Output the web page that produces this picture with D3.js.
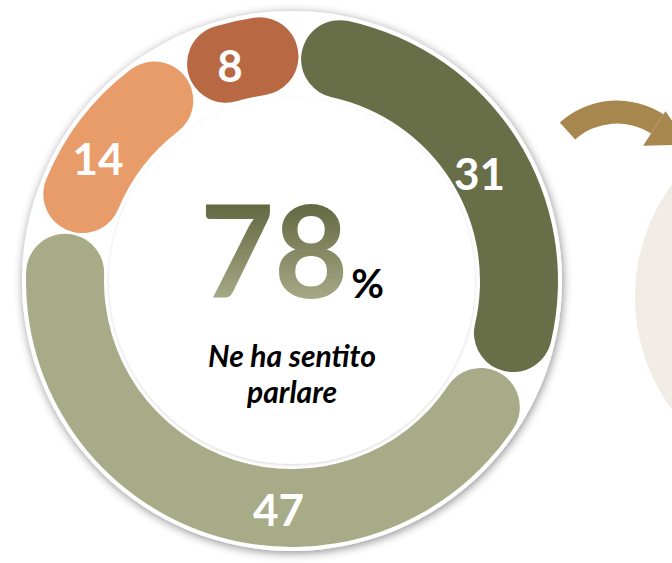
<!DOCTYPE html>
<html>
<head>
<meta charset="utf-8">
<script src="https://cdn.jsdelivr.net/npm/d3@7"></script>
<style>
    body { margin: 0; background: #fff; }
    svg { display: block; }
</style>
</head>
<body>
<div id="chart"></div>
<script>
// slices, clockwise from the top
var values = [31, 47, 14, 8];
var colors = ["#686E48", "#A7AB87", "#E89C6A", "#B86843"];
var labelShift = [2.5, -14.5, -5.5, -3.5]; // degrees, the labels are not all at mid slice
var labelRadius = [216, 230, 229, 224];
var centerValue = 78;
var centerCaption = ["Ne ha sentito", "parlare"];

var width = 672, height = 563;
var cx = 292, cy = 281;
var diskR = 270, bandOuter = 266, bandInner = 188, holeR = 183;
var rad = Math.PI / 180;

var svg = d3.select("#chart").append("svg")
    .attr("width", width)
    .attr("height", height);

var defs = svg.append("defs");

defs.append("filter")
    .attr("id", "diskShadow")
    .attr("x", "-20%").attr("y", "-20%")
    .attr("width", "140%").attr("height", "140%")
    .append("feDropShadow")
    .attr("dx", 1).attr("dy", 2)
    .attr("stdDeviation", 5)
    .attr("flood-color", "#000")
    .attr("flood-opacity", 0.45);

defs.append("filter")
    .attr("id", "holeShadow")
    .attr("x", "-20%").attr("y", "-20%")
    .attr("width", "140%").attr("height", "140%")
    .append("feDropShadow")
    .attr("dx", 0).attr("dy", 1)
    .attr("stdDeviation", 1.5)
    .attr("flood-color", "#000")
    .attr("flood-opacity", 0.18);

// gradient is in the centre group's coordinates
var grad = defs.append("linearGradient")
    .attr("id", "bigNum")
    .attr("gradientUnits", "userSpaceOnUse")
    .attr("x1", 0).attr("x2", 0)
    .attr("y1", 207 - cy).attr("y2", 299 - cy);
grad.append("stop").attr("offset", 0).attr("stop-color", "#646A43");
grad.append("stop").attr("offset", 1).attr("stop-color", "#A6A986");

// next panel peeking in on the right, with the connecting arrow
svg.append("circle")
    .attr("cx", 825).attr("cy", 297)
    .attr("r", 190)
    .attr("fill", "#F1ECE5");

var arrowC = [617, 186], arrowR = 74, arrowW = 23, arrowEnd = 33 * rad;
var arrow = svg.append("g")
    .attr("transform", "translate(" + arrowC + ")")
    .attr("fill", "#A8874F");
arrow.append("path")
    .attr("d", d3.arc()
        .innerRadius(arrowR - arrowW / 2)
        .outerRadius(arrowR + arrowW / 2)
        .startAngle(-42 * rad)
        .endAngle(arrowEnd)());
var head = d3.path();
var pt = function (r, a) { return [r * Math.sin(a), -r * Math.cos(a)]; };
var base1 = pt(arrowR - 26, arrowEnd), base2 = pt(arrowR + 15, arrowEnd), mid = pt(arrowR, arrowEnd);
head.moveTo(base1[0], base1[1]);
head.lineTo(base2[0], base2[1]);
head.lineTo(mid[0] + 38 * Math.cos(arrowEnd), mid[1] + 38 * Math.sin(arrowEnd));
head.closePath();
arrow.append("path").attr("d", head.toString());

// white disk under the ring
var g = svg.append("g").attr("transform", "translate(" + cx + "," + cy + ")");
g.append("circle")
    .attr("r", diskR)
    .attr("fill", "#fff")
    .attr("filter", "url(#diskShadow)");

var pie = d3.pie()
    .sort(null)
    .startAngle(2 * rad)
    .endAngle(362 * rad)
    .padAngle(0.008)
    .value(function (d) { return d; });

var arc = d3.arc()
    .innerRadius(bandInner)
    .outerRadius(bandOuter)
    .cornerRadius((bandOuter - bandInner) / 2);

var slices = pie(values);

g.selectAll("path.slice")
    .data(slices)
    .enter().append("path")
    .attr("class", "slice")
    .attr("d", arc)
    .attr("fill", function (d, i) { return colors[i]; });

function labelAngle(d, i) {
    return (d.startAngle + d.endAngle) / 2 + labelShift[i] * rad;
}

g.selectAll("text.val")
    .data(slices)
    .enter().append("text")
    .attr("class", "val")
    .attr("x", function (d, i) { return labelRadius[i] * Math.sin(labelAngle(d, i)); })
    .attr("y", function (d, i) { return -labelRadius[i] * Math.cos(labelAngle(d, i)); })
    .attr("dy", "0.36em")
    .attr("text-anchor", "middle")
    .style("font-family", "Lato, sans-serif")
    .style("font-weight", "bold")
    .style("font-size", "44px")
    .style("fill", "#fff")
    .text(function (d) { return d.data; });

// centre
g.append("circle")
    .attr("r", holeR)
    .attr("fill", "#fff")
    .attr("filter", "url(#holeShadow)");

var big = g.append("text")
    .attr("x", 0)
    .attr("y", 298 - cy)
    .attr("text-anchor", "middle")
    .style("font-family", "Lato, sans-serif")
    .style("font-weight", "bold");
big.append("tspan")
    .style("font-size", "128px")
    .style("fill", "url(#bigNum)")
    .text(centerValue);
big.append("tspan")
    .attr("dx", 3)
    .style("font-size", "40px")
    .style("fill", "#000")
    .text("%");

g.selectAll("text.cap")
    .data(centerCaption)
    .enter().append("text")
    .attr("class", "cap")
    .attr("x", 0)
    .attr("y", function (d, i) { return 367 - cy + i * 36; })
    .attr("text-anchor", "middle")
    .style("font-family", "Lato, sans-serif")
    .style("font-weight", "bold")
    .style("font-style", "italic")
    .style("font-size", "30px")
    .style("fill", "#000")
    .text(function (d) { return d; });
</script>
</body>
</html>
